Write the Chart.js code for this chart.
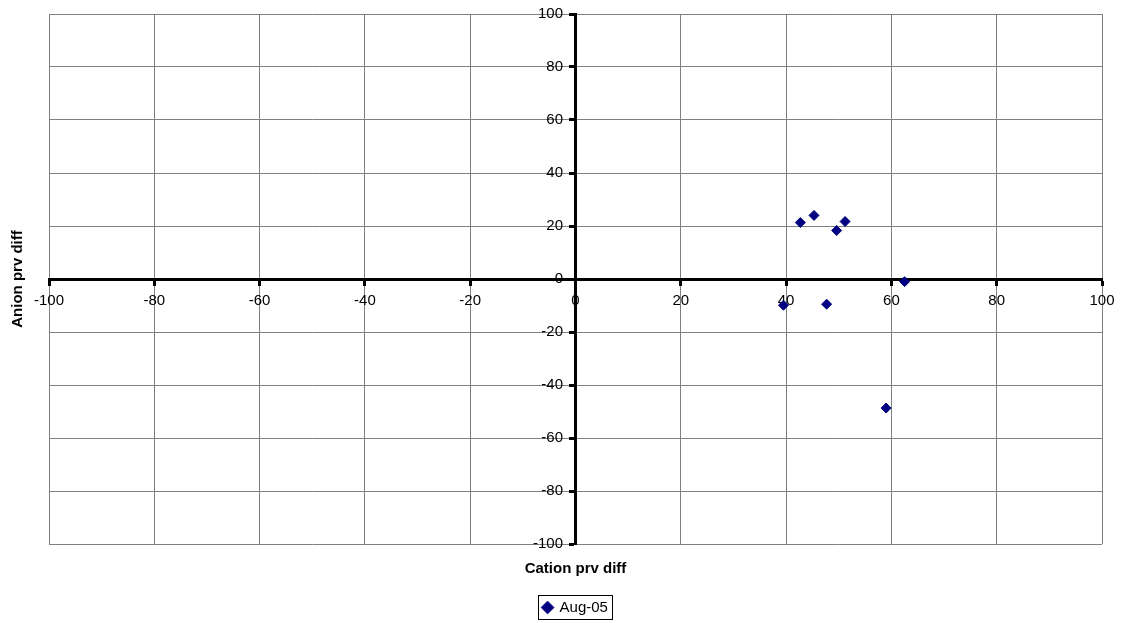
<!DOCTYPE html>
<html>
<head>
<meta charset="utf-8">
<script src="https://cdn.jsdelivr.net/npm/chart.js@4"></script>
<style>
  body { margin: 0; background: #fff; }
  canvas { display: block; }
</style>
</head>
<body>
<canvas id="chart" width="1123" height="623"></canvas>
<script>
// values
var seriesName = "Aug-05";
var cationDiff = [42.7, 45.3, 49.6, 51.2, 62.5, 39.5, 47.7, 59.0];
var anionDiff = [21.3, 24.0, 18.3, 21.7, -1.0, -9.9, -9.5, -48.7];
var xTitle = "Cation prv diff";
var yTitle = "Anion prv diff";

var FONT = "Arial, 'Liberation Sans', sans-serif";

var points = cationDiff.map(function(x, i) {
  return {x: x, y: anionDiff[i]};
});

// thin frame round the legend entry
var legendBox = {
  id: 'legendBox',
  afterDraw: function(chart) {
    var lg = chart.legend;
    if (!lg || !lg.legendHitBoxes.length) return;
    var hb = lg.legendHitBoxes[0];
    var ctx = chart.ctx;
    ctx.save();
    ctx.strokeStyle = '#000';
    ctx.lineWidth = 1;
    ctx.strokeRect(Math.round(hb.left) - 4.5, Math.round(hb.top) - 4.5,
      Math.round(hb.width) + 9, Math.round(hb.height) + 9);
    ctx.restore();
  }
};

// axes cross at zero, like the excel original
function axisOpts(other, pad) {
  var pos = {};
  pos[other] = 0;
  return {
    type: 'linear',
    min: -100,
    max: 100,
    position: pos,
    // labels may hang over the plot edge, layout padding handles that
    afterFit: function(axis) {
      axis.paddingTop = 0;
      axis.paddingBottom = 0;
      axis.paddingLeft = 0;
      axis.paddingRight = 0;
    },
    ticks: {
      stepSize: 20,
      color: '#000',
      padding: 8,
      font: {family: FONT, size: 15},
      callback: function(v) {
        return v + pad;   // y labels sit right-aligned on the axis, so pad them off it
      }
    },
    grid: {
      color: '#808080',
      lineWidth: 1,
      drawTicks: true,
      tickLength: 5,
      tickColor: '#000',
      tickWidth: 3
    },
    border: {color: '#000', width: 3}
  };
}

var ctx = document.getElementById('chart').getContext('2d');
new Chart(ctx, {
  type: 'scatter',
  data: {
    datasets: [{
      label: seriesName,
      data: points,
      pointStyle: 'rectRot',
      pointRadius: 5,
      pointHoverRadius: 5,
      backgroundColor: '#000080',
      borderColor: '#000080',
      borderWidth: 1
    }]
  },
  options: {
    responsive: false,
    animation: false,
    layout: {padding: {left: 0, top: 14, right: 21, bottom: -2}},
    scales: {
      x: axisOpts('y', ''),
      y: axisOpts('x', '   ')
    },
    plugins: {
      title: {
        display: true,
        text: yTitle,
        position: 'left',
        fullSize: false,
        color: '#000',
        font: {family: FONT, size: 15, weight: 'bold'},
        padding: {top: 9, bottom: 22}
      },
      subtitle: {
        display: true,
        text: xTitle,
        position: 'bottom',
        fullSize: false,
        weight: 1500,
        color: '#000',
        font: {family: FONT, size: 15, weight: 'bold'},
        padding: {top: 16, bottom: 15}
      },
      legend: {
        display: true,
        position: 'bottom',
        fullSize: false,
        weight: 3000,
        labels: {
          usePointStyle: true,
          pointStyle: 'rectRot',
          boxWidth: 9,
          boxHeight: 9,
          color: '#000',
          padding: 7,
          font: {family: FONT, size: 15}
        }
      },
      tooltip: {enabled: false}
    }
  },
  plugins: [legendBox]
});
</script>
</body>
</html>
